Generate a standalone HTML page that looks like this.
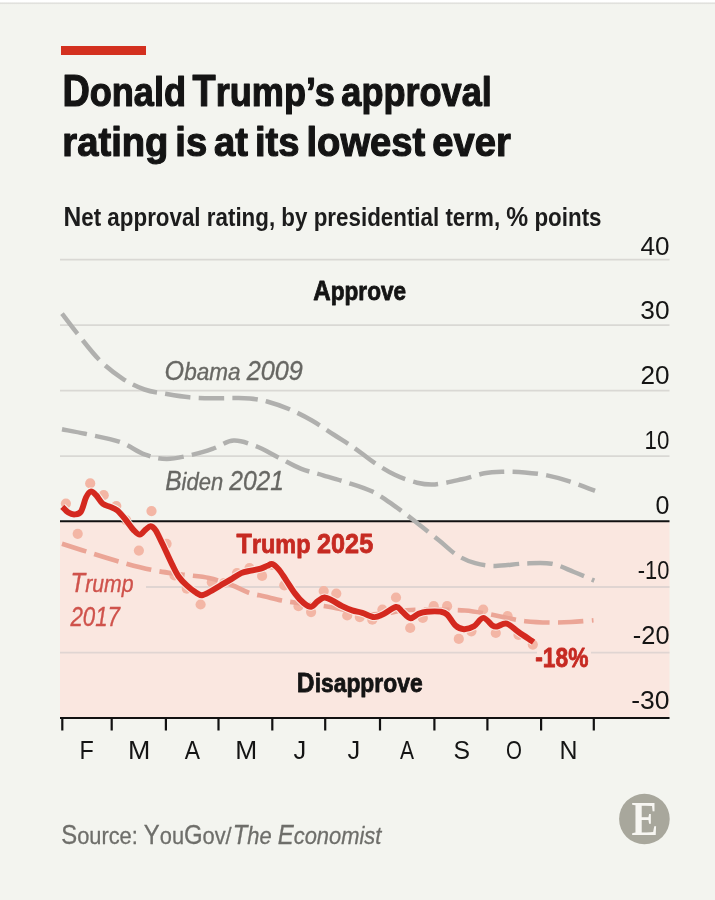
<!DOCTYPE html>
<html><head><meta charset="utf-8"><style>
html,body{margin:0;padding:0;background:#f3f4ef;}
body{width:715px;height:900px;overflow:hidden;position:relative;}
.top{position:absolute;left:0;top:0;width:715px;height:5px;background:linear-gradient(#ffffff 0px,#ffffff 1.8px,#dcdcd8 3.2px,#f3f4ef 4.6px);}
.bar{position:absolute;left:61px;top:46px;width:85px;height:9px;background:#d3301f;}
svg{position:absolute;left:0;top:0;font-family:"Liberation Sans",sans-serif;will-change:transform;}
</style></head><body>
<div class="top"></div>
<div class="bar"></div>
<svg width="715" height="900" viewBox="0 0 715 900">
<rect x="60" y="521.3" width="609.5" height="196.7" fill="#fae7e0"/>
<line x1="60" y1="259.7" x2="669.5" y2="259.7" stroke="#d9d8d4" stroke-width="1.8"/>
<line x1="60" y1="325.2" x2="669.5" y2="325.2" stroke="#d9d8d4" stroke-width="1.8"/>
<line x1="60" y1="390.7" x2="669.5" y2="390.7" stroke="#d9d8d4" stroke-width="1.8"/>
<line x1="60" y1="456.2" x2="669.5" y2="456.2" stroke="#d9d8d4" stroke-width="1.8"/>
<line x1="60" y1="587.0" x2="669.5" y2="587.0" stroke="#e0d5d2" stroke-width="1.8"/>
<line x1="60" y1="652.6" x2="669.5" y2="652.6" stroke="#e0d5d2" stroke-width="1.8"/>
<rect x="60" y="568" width="86" height="62" fill="#fae7e0"/>
<rect x="537" y="645" width="54" height="26" fill="#fae7e0"/>
<circle cx="65.9" cy="503.6" r="5.1" fill="#f3b6a5"/>
<circle cx="77.7" cy="533.8" r="5.1" fill="#f3b6a5"/>
<circle cx="90.2" cy="483.4" r="5.1" fill="#f3b6a5"/>
<circle cx="103.7" cy="495.2" r="5.1" fill="#f3b6a5"/>
<circle cx="116.3" cy="506.1" r="5.1" fill="#f3b6a5"/>
<circle cx="126.3" cy="520.4" r="5.1" fill="#f3b6a5"/>
<circle cx="138.9" cy="550.6" r="5.1" fill="#f3b6a5"/>
<circle cx="151.5" cy="511.1" r="5.1" fill="#f3b6a5"/>
<circle cx="166.6" cy="543.8" r="5.1" fill="#f3b6a5"/>
<circle cx="174.5" cy="575.5" r="5.1" fill="#f3b6a5"/>
<circle cx="186.8" cy="588.7" r="5.1" fill="#f3b6a5"/>
<circle cx="200.6" cy="604.5" r="5.1" fill="#f3b6a5"/>
<circle cx="211.8" cy="582.2" r="5.1" fill="#f3b6a5"/>
<circle cx="224" cy="583" r="5.1" fill="#f3b6a5"/>
<circle cx="237" cy="573" r="5.1" fill="#f3b6a5"/>
<circle cx="249.5" cy="568.2" r="5.1" fill="#f3b6a5"/>
<circle cx="262.1" cy="575.9" r="5.1" fill="#f3b6a5"/>
<circle cx="272" cy="565" r="5.1" fill="#f3b6a5"/>
<circle cx="284.3" cy="585.3" r="5.1" fill="#f3b6a5"/>
<circle cx="298.5" cy="606.2" r="5.1" fill="#f3b6a5"/>
<circle cx="311.1" cy="612.1" r="5.1" fill="#f3b6a5"/>
<circle cx="323.7" cy="591.1" r="5.1" fill="#f3b6a5"/>
<circle cx="336.3" cy="593.6" r="5.1" fill="#f3b6a5"/>
<circle cx="347.2" cy="615.5" r="5.1" fill="#f3b6a5"/>
<circle cx="359.8" cy="617.1" r="5.1" fill="#f3b6a5"/>
<circle cx="372.3" cy="619.7" r="5.1" fill="#f3b6a5"/>
<circle cx="382.4" cy="609.6" r="5.1" fill="#f3b6a5"/>
<circle cx="396" cy="597.5" r="5.1" fill="#f3b6a5"/>
<circle cx="410.2" cy="628" r="5.1" fill="#f3b6a5"/>
<circle cx="422.8" cy="617.9" r="5.1" fill="#f3b6a5"/>
<circle cx="433.7" cy="606.2" r="5.1" fill="#f3b6a5"/>
<circle cx="447.1" cy="606.2" r="5.1" fill="#f3b6a5"/>
<circle cx="458.8" cy="638.9" r="5.1" fill="#f3b6a5"/>
<circle cx="471.4" cy="631.3" r="5.1" fill="#f3b6a5"/>
<circle cx="483.2" cy="609.5" r="5.1" fill="#f3b6a5"/>
<circle cx="495.8" cy="633" r="5.1" fill="#f3b6a5"/>
<circle cx="507.6" cy="616.1" r="5.1" fill="#f3b6a5"/>
<circle cx="518.5" cy="635" r="5.1" fill="#f3b6a5"/>
<circle cx="532.8" cy="644.6" r="5.1" fill="#f3b6a5"/>
<line x1="60" y1="521.3" x2="669.5" y2="521.3" stroke="#111" stroke-width="2.1"/>
<line x1="60" y1="718" x2="669.5" y2="718" stroke="#111" stroke-width="2.1"/>
<line x1="62.3" y1="718" x2="62.3" y2="730.5" stroke="#111" stroke-width="2.2"/>
<line x1="111.7" y1="718" x2="111.7" y2="730.5" stroke="#111" stroke-width="2.2"/>
<line x1="165.9" y1="718" x2="165.9" y2="730.5" stroke="#111" stroke-width="2.2"/>
<line x1="218.5" y1="718" x2="218.5" y2="730.5" stroke="#111" stroke-width="2.2"/>
<line x1="272.3" y1="718" x2="272.3" y2="730.5" stroke="#111" stroke-width="2.2"/>
<line x1="325.2" y1="718" x2="325.2" y2="730.5" stroke="#111" stroke-width="2.2"/>
<line x1="380" y1="718" x2="380" y2="730.5" stroke="#111" stroke-width="2.2"/>
<line x1="434.4" y1="718" x2="434.4" y2="730.5" stroke="#111" stroke-width="2.2"/>
<line x1="487.4" y1="718" x2="487.4" y2="730.5" stroke="#111" stroke-width="2.2"/>
<line x1="541.1" y1="718" x2="541.1" y2="730.5" stroke="#111" stroke-width="2.2"/>
<line x1="593.8" y1="718" x2="593.8" y2="730.5" stroke="#111" stroke-width="2.2"/>
<path d="M62.0,313.6 C64.6,316.9 71.1,325.8 77.4,333.6 C83.7,341.4 92.3,352.9 99.8,360.4 C107.2,367.8 114.6,373.4 122.1,378.3 C129.5,383.2 137.0,386.9 144.5,389.5 C152.0,392.1 159.4,392.7 166.9,394.0 C174.4,395.3 181.9,396.6 189.3,397.3 C196.8,398.0 204.3,398.2 211.6,398.3 C218.9,398.4 226.6,398.1 233.0,398.1 C239.4,398.1 244.3,397.9 250.0,398.5 C255.7,399.1 260.5,399.7 267.1,401.5 C273.7,403.3 282.0,406.1 289.5,409.3 C297.0,412.5 304.4,416.2 311.9,420.5 C319.4,424.8 327.2,430.4 334.3,435.0 C341.4,439.6 348.1,443.6 354.5,448.0 C360.9,452.4 365.7,456.9 372.4,461.4 C379.1,465.9 387.4,471.2 394.8,474.8 C402.2,478.4 410.4,481.1 417.1,482.7 C423.8,484.3 427.5,485.0 435.0,484.4 C442.5,483.8 453.7,481.1 461.9,479.3 C470.1,477.5 477.6,474.6 484.3,473.3 C491.1,472.1 495.6,472.0 502.4,471.8 C509.1,471.6 517.3,471.8 524.8,472.4 C532.2,473.0 539.6,473.9 547.1,475.4 C554.6,476.9 561.5,478.8 569.5,481.4 C577.5,484.0 590.8,489.2 595.0,490.8" fill="none" stroke="#b0b0ae" stroke-width="4.5" stroke-dasharray="25.5 8.25"/>
<path d="M62.0,429.3 C65.9,430.1 75.5,431.7 85.2,433.8 C94.9,435.9 110.0,438.6 119.9,442.0 C129.8,445.4 136.7,451.6 144.5,454.4 C152.3,457.2 158.7,458.9 166.9,458.9 C175.1,458.9 185.9,456.1 193.7,454.4 C201.4,452.7 206.8,450.8 213.4,448.5 C220.1,446.2 226.5,441.0 233.6,440.6 C240.7,440.2 248.4,443.4 255.9,446.2 C263.4,449.0 270.8,453.7 278.3,457.4 C285.8,461.1 293.2,465.6 300.7,468.6 C308.2,471.6 315.7,473.1 323.1,475.3 C330.6,477.5 337.2,479.3 345.4,482.0 C353.6,484.7 364.2,487.6 372.4,491.6 C380.6,495.6 387.4,500.9 394.8,506.1 C402.2,511.3 409.7,517.1 417.1,522.9 C424.6,528.7 432.8,535.4 439.5,540.8 C446.2,546.2 451.4,551.7 457.4,555.4 C463.4,559.1 469.0,561.5 475.3,563.2 C481.6,565.0 487.1,565.9 495.4,565.9 C503.6,565.9 515.4,563.9 524.8,563.5 C534.2,563.1 543.4,562.3 551.6,563.7 C559.8,565.1 566.9,569.2 574.0,572.0 C581.1,574.8 590.9,579.2 594.3,580.6" fill="none" stroke="#b0b0ae" stroke-width="4.5" stroke-dasharray="25.5 8.25"/>
<path d="M62.0,543.8 C66.0,545.1 76.5,548.4 86.0,551.4 C95.5,554.4 107.9,558.4 118.8,561.5 C129.7,564.6 141.0,567.7 151.5,569.9 C162.0,572.1 172.2,573.1 181.8,574.5 C191.4,575.9 200.7,576.2 209.0,578.0 C217.3,579.8 224.8,582.5 231.4,585.0 C238.0,587.5 243.2,590.8 248.8,592.7 C254.4,594.6 259.5,595.2 265.0,596.5 C270.5,597.8 275.9,599.4 281.7,600.5 C287.5,601.6 291.9,602.1 300.0,603.2 C308.1,604.3 320.8,605.5 330.0,607.0 C339.2,608.5 348.0,610.8 355.0,612.0 C362.0,613.2 366.7,614.1 372.0,614.3 C377.3,614.5 382.3,613.8 387.0,613.3 C391.7,612.8 396.0,611.5 400.0,611.0 C404.0,610.5 404.3,610.2 411.0,610.0 C417.7,609.8 431.0,609.7 440.0,609.8 C449.0,609.9 457.4,609.9 465.0,610.5 C472.6,611.1 479.0,612.3 485.7,613.5 C492.4,614.7 498.4,616.2 505.0,617.5 C511.6,618.8 517.8,620.4 525.2,621.2 C532.6,622.0 542.0,622.4 549.6,622.5 C557.2,622.6 563.7,622.4 571.0,622.0 C578.3,621.6 589.8,620.6 593.5,620.3" fill="none" stroke="#eba596" stroke-width="4.6" stroke-dasharray="25.5 8.25"/>
<clipPath id="cu"><rect x="0" y="0" width="715" height="521.3"/></clipPath><clipPath id="cl"><rect x="0" y="521.3" width="715" height="400"/></clipPath>
<path d="M62.3,506.8 C63.3,507.8 66.3,511.3 68.4,512.6 C70.5,513.9 72.7,514.6 74.8,514.4 C76.9,514.2 79.1,514.3 81.0,511.5 C82.9,508.7 84.4,500.8 86.0,497.5 C87.6,494.2 89.1,491.9 90.8,491.5 C92.5,491.1 94.1,493.1 96.1,495.2 C98.1,497.2 100.4,501.9 102.8,503.8 C105.2,505.8 108.0,505.8 110.4,506.9 C112.8,508.0 114.6,508.2 117.1,510.3 C119.6,512.4 122.7,516.1 125.5,519.5 C128.3,522.9 131.5,527.9 133.9,530.4 C136.3,532.9 137.9,534.7 139.8,534.6 C141.8,534.5 143.8,531.0 145.6,529.6 C147.4,528.2 149.0,526.1 150.7,526.2 C152.4,526.3 153.8,527.5 155.7,530.4 C157.6,533.3 159.7,538.3 162.4,543.8 C165.1,549.3 169.0,558.2 171.7,563.6 C174.4,569.0 175.9,572.6 178.4,576.2 C180.9,579.8 184.0,582.8 186.8,585.4 C189.6,588.0 192.7,590.5 195.2,592.1 C197.7,593.7 199.4,595.3 201.9,595.2 C204.4,595.1 207.2,593.1 210.3,591.5 C213.4,589.9 217.0,587.5 220.4,585.5 C223.8,583.5 227.0,581.7 230.5,579.6 C234.0,577.5 237.8,574.6 241.2,573.1 C244.6,571.6 247.8,571.4 251.0,570.6 C254.2,569.9 258.0,569.4 260.7,568.6 C263.4,567.8 265.4,566.6 267.4,565.8 C269.3,565.0 270.5,563.4 272.4,564.0 C274.3,564.6 276.6,567.0 278.9,569.6 C281.1,572.2 283.2,575.8 285.9,579.8 C288.6,583.8 292.2,589.8 295.1,593.6 C298.0,597.5 300.8,600.7 303.5,602.9 C306.2,605.1 308.7,607.1 311.1,606.8 C313.5,606.5 315.6,602.8 317.8,601.2 C320.0,599.7 322.1,597.6 324.5,597.5 C326.9,597.4 329.2,598.9 332.1,600.4 C335.0,601.9 338.8,604.5 342.1,606.2 C345.5,607.9 348.8,609.3 352.2,610.4 C355.6,611.5 358.7,611.8 362.3,612.9 C365.9,614.0 370.6,616.8 374.0,617.1 C377.4,617.4 378.8,616.3 382.4,614.6 C386.0,612.9 392.7,607.6 395.9,607.0 C399.1,606.4 399.4,609.3 401.8,611.2 C404.2,613.1 407.4,617.8 410.2,618.2 C413.0,618.6 415.8,614.8 418.6,613.7 C421.4,612.6 423.4,612.0 427.0,611.7 C430.6,611.4 437.0,611.2 440.4,611.7 C443.8,612.2 444.6,612.2 447.1,614.5 C449.6,616.8 452.7,623.0 455.5,625.5 C458.3,628.0 460.8,629.1 463.9,629.2 C467.0,629.3 470.8,628.2 474.0,626.3 C477.2,624.4 480.1,618.0 483.2,617.9 C486.3,617.8 490.1,624.1 492.4,625.5 C494.7,626.9 494.6,626.8 497.0,626.5 C499.4,626.2 503.2,622.7 506.8,623.6 C510.4,624.5 514.0,628.9 518.5,632.0 C523.0,635.1 531.1,640.4 533.6,642.1" fill="none" stroke="#f3f4ef" stroke-width="8.1" stroke-linejoin="round" clip-path="url(#cu)"/>
<path d="M62.3,506.8 C63.3,507.8 66.3,511.3 68.4,512.6 C70.5,513.9 72.7,514.6 74.8,514.4 C76.9,514.2 79.1,514.3 81.0,511.5 C82.9,508.7 84.4,500.8 86.0,497.5 C87.6,494.2 89.1,491.9 90.8,491.5 C92.5,491.1 94.1,493.1 96.1,495.2 C98.1,497.2 100.4,501.9 102.8,503.8 C105.2,505.8 108.0,505.8 110.4,506.9 C112.8,508.0 114.6,508.2 117.1,510.3 C119.6,512.4 122.7,516.1 125.5,519.5 C128.3,522.9 131.5,527.9 133.9,530.4 C136.3,532.9 137.9,534.7 139.8,534.6 C141.8,534.5 143.8,531.0 145.6,529.6 C147.4,528.2 149.0,526.1 150.7,526.2 C152.4,526.3 153.8,527.5 155.7,530.4 C157.6,533.3 159.7,538.3 162.4,543.8 C165.1,549.3 169.0,558.2 171.7,563.6 C174.4,569.0 175.9,572.6 178.4,576.2 C180.9,579.8 184.0,582.8 186.8,585.4 C189.6,588.0 192.7,590.5 195.2,592.1 C197.7,593.7 199.4,595.3 201.9,595.2 C204.4,595.1 207.2,593.1 210.3,591.5 C213.4,589.9 217.0,587.5 220.4,585.5 C223.8,583.5 227.0,581.7 230.5,579.6 C234.0,577.5 237.8,574.6 241.2,573.1 C244.6,571.6 247.8,571.4 251.0,570.6 C254.2,569.9 258.0,569.4 260.7,568.6 C263.4,567.8 265.4,566.6 267.4,565.8 C269.3,565.0 270.5,563.4 272.4,564.0 C274.3,564.6 276.6,567.0 278.9,569.6 C281.1,572.2 283.2,575.8 285.9,579.8 C288.6,583.8 292.2,589.8 295.1,593.6 C298.0,597.5 300.8,600.7 303.5,602.9 C306.2,605.1 308.7,607.1 311.1,606.8 C313.5,606.5 315.6,602.8 317.8,601.2 C320.0,599.7 322.1,597.6 324.5,597.5 C326.9,597.4 329.2,598.9 332.1,600.4 C335.0,601.9 338.8,604.5 342.1,606.2 C345.5,607.9 348.8,609.3 352.2,610.4 C355.6,611.5 358.7,611.8 362.3,612.9 C365.9,614.0 370.6,616.8 374.0,617.1 C377.4,617.4 378.8,616.3 382.4,614.6 C386.0,612.9 392.7,607.6 395.9,607.0 C399.1,606.4 399.4,609.3 401.8,611.2 C404.2,613.1 407.4,617.8 410.2,618.2 C413.0,618.6 415.8,614.8 418.6,613.7 C421.4,612.6 423.4,612.0 427.0,611.7 C430.6,611.4 437.0,611.2 440.4,611.7 C443.8,612.2 444.6,612.2 447.1,614.5 C449.6,616.8 452.7,623.0 455.5,625.5 C458.3,628.0 460.8,629.1 463.9,629.2 C467.0,629.3 470.8,628.2 474.0,626.3 C477.2,624.4 480.1,618.0 483.2,617.9 C486.3,617.8 490.1,624.1 492.4,625.5 C494.7,626.9 494.6,626.8 497.0,626.5 C499.4,626.2 503.2,622.7 506.8,623.6 C510.4,624.5 514.0,628.9 518.5,632.0 C523.0,635.1 531.1,640.4 533.6,642.1" fill="none" stroke="#fae7e0" stroke-width="8.1" stroke-linejoin="round" clip-path="url(#cl)"/>
<path d="M62.3,506.8 C63.3,507.8 66.3,511.3 68.4,512.6 C70.5,513.9 72.7,514.6 74.8,514.4 C76.9,514.2 79.1,514.3 81.0,511.5 C82.9,508.7 84.4,500.8 86.0,497.5 C87.6,494.2 89.1,491.9 90.8,491.5 C92.5,491.1 94.1,493.1 96.1,495.2 C98.1,497.2 100.4,501.9 102.8,503.8 C105.2,505.8 108.0,505.8 110.4,506.9 C112.8,508.0 114.6,508.2 117.1,510.3 C119.6,512.4 122.7,516.1 125.5,519.5 C128.3,522.9 131.5,527.9 133.9,530.4 C136.3,532.9 137.9,534.7 139.8,534.6 C141.8,534.5 143.8,531.0 145.6,529.6 C147.4,528.2 149.0,526.1 150.7,526.2 C152.4,526.3 153.8,527.5 155.7,530.4 C157.6,533.3 159.7,538.3 162.4,543.8 C165.1,549.3 169.0,558.2 171.7,563.6 C174.4,569.0 175.9,572.6 178.4,576.2 C180.9,579.8 184.0,582.8 186.8,585.4 C189.6,588.0 192.7,590.5 195.2,592.1 C197.7,593.7 199.4,595.3 201.9,595.2 C204.4,595.1 207.2,593.1 210.3,591.5 C213.4,589.9 217.0,587.5 220.4,585.5 C223.8,583.5 227.0,581.7 230.5,579.6 C234.0,577.5 237.8,574.6 241.2,573.1 C244.6,571.6 247.8,571.4 251.0,570.6 C254.2,569.9 258.0,569.4 260.7,568.6 C263.4,567.8 265.4,566.6 267.4,565.8 C269.3,565.0 270.5,563.4 272.4,564.0 C274.3,564.6 276.6,567.0 278.9,569.6 C281.1,572.2 283.2,575.8 285.9,579.8 C288.6,583.8 292.2,589.8 295.1,593.6 C298.0,597.5 300.8,600.7 303.5,602.9 C306.2,605.1 308.7,607.1 311.1,606.8 C313.5,606.5 315.6,602.8 317.8,601.2 C320.0,599.7 322.1,597.6 324.5,597.5 C326.9,597.4 329.2,598.9 332.1,600.4 C335.0,601.9 338.8,604.5 342.1,606.2 C345.5,607.9 348.8,609.3 352.2,610.4 C355.6,611.5 358.7,611.8 362.3,612.9 C365.9,614.0 370.6,616.8 374.0,617.1 C377.4,617.4 378.8,616.3 382.4,614.6 C386.0,612.9 392.7,607.6 395.9,607.0 C399.1,606.4 399.4,609.3 401.8,611.2 C404.2,613.1 407.4,617.8 410.2,618.2 C413.0,618.6 415.8,614.8 418.6,613.7 C421.4,612.6 423.4,612.0 427.0,611.7 C430.6,611.4 437.0,611.2 440.4,611.7 C443.8,612.2 444.6,612.2 447.1,614.5 C449.6,616.8 452.7,623.0 455.5,625.5 C458.3,628.0 460.8,629.1 463.9,629.2 C467.0,629.3 470.8,628.2 474.0,626.3 C477.2,624.4 480.1,618.0 483.2,617.9 C486.3,617.8 490.1,624.1 492.4,625.5 C494.7,626.9 494.6,626.8 497.0,626.5 C499.4,626.2 503.2,622.7 506.8,623.6 C510.4,624.5 514.0,628.9 518.5,632.0 C523.0,635.1 531.1,640.4 533.6,642.1" fill="none" stroke="#d4291f" stroke-width="5.9" stroke-linejoin="round"/>
<text x="62.44" y="105.5" font-size="43.5" fill="#141414" font-weight="bold" word-spacing="-4" stroke="#141414" stroke-width="1.2" stroke-linejoin="round" textLength="429.35" lengthAdjust="spacingAndGlyphs">D<tspan font-size="41.5">onald </tspan>T<tspan font-size="41.5">rump’s approval</tspan></text>
<text x="62.37" y="155.5" font-size="43.5" fill="#141414" font-weight="bold" word-spacing="-4" stroke="#141414" stroke-width="1.2" stroke-linejoin="round" textLength="448.39" lengthAdjust="spacingAndGlyphs"><tspan font-size="41.5">rating is at its lowest ever</tspan></text>
<text x="63.48" y="225.7" font-size="28.4" fill="#1c1c1c" font-weight="bold" textLength="538.05" lengthAdjust="spacingAndGlyphs">N<tspan font-size="25.8">et approval rating, by presidential term, </tspan>%<tspan font-size="25.8"> points</tspan></text>
<text x="313.36" y="300" font-size="27.6" fill="#141414" font-weight="bold" stroke="#141414" stroke-width="0.8" stroke-linejoin="round" textLength="92.68" lengthAdjust="spacingAndGlyphs">A<tspan font-size="25.8">pprove</tspan></text>
<text x="296.86" y="692.3" font-size="28" fill="#141414" font-weight="bold" stroke="#141414" stroke-width="0.8" stroke-linejoin="round" textLength="125.76" lengthAdjust="spacingAndGlyphs">D<tspan font-size="26">isapprove</tspan></text>
<text x="236.47" y="552.7" font-size="28" fill="#c62a22" font-weight="bold" stroke="#c62a22" stroke-width="0.8" stroke-linejoin="round" textLength="136.74" lengthAdjust="spacingAndGlyphs">T<tspan font-size="26">rump </tspan>2025</text>
<text x="535.27" y="667.3" font-size="27.5" fill="#c62a22" font-weight="bold" stroke="#c62a22" stroke-width="0.8" stroke-linejoin="round" textLength="53.11" lengthAdjust="spacingAndGlyphs">-18%</text>
<text x="164.52" y="379.9" font-size="27.3" fill="#676763" font-style="italic" stroke="#676763" stroke-width="0.35" stroke-linejoin="round" textLength="138.40" lengthAdjust="spacingAndGlyphs">O<tspan font-size="24.4">bama </tspan>2009</text>
<text x="165.20" y="489.8" font-size="27.3" fill="#676763" font-style="italic" stroke="#676763" stroke-width="0.35" stroke-linejoin="round" textLength="118.79" lengthAdjust="spacingAndGlyphs">B<tspan font-size="24.4">iden </tspan>2021</text>
<text x="70.53" y="592.4" font-size="27.8" fill="#cf524b" font-style="italic" stroke="#cf524b" stroke-width="0.35" stroke-linejoin="round" textLength="63.08" lengthAdjust="spacingAndGlyphs">T<tspan font-size="24.6">rump</tspan></text>
<text x="70.38" y="626.3" font-size="26.8" fill="#cf524b" font-style="italic" stroke="#cf524b" stroke-width="0.35" stroke-linejoin="round" textLength="49.64" lengthAdjust="spacingAndGlyphs">2017</text>
<text x="61.26" y="844" font-size="26.8" fill="#6e6e6a" stroke="#6e6e6a" stroke-width="0.3" stroke-linejoin="round" textLength="170.42" lengthAdjust="spacingAndGlyphs">S<tspan font-size="24.5">ource: </tspan>Y<tspan font-size="24.5">ou</tspan>G<tspan font-size="24.5">ov/</tspan></text>
<text x="232.64" y="844" font-size="26.8" fill="#6e6e6a" font-style="italic" stroke="#6e6e6a" stroke-width="0.3" stroke-linejoin="round" textLength="148.77" lengthAdjust="spacingAndGlyphs">T<tspan font-size="24.5">he </tspan>E<tspan font-size="24.5">conomist</tspan></text>
<text x="640.50" y="254.5" font-size="26.2" fill="#141414" textLength="29.02" lengthAdjust="spacingAndGlyphs">40</text>
<text x="640.25" y="319.4" font-size="26.2" fill="#141414" textLength="29.28" lengthAdjust="spacingAndGlyphs">30</text>
<text x="640.45" y="384.3" font-size="26.2" fill="#141414" textLength="29.07" lengthAdjust="spacingAndGlyphs">20</text>
<text x="644.61" y="449.2" font-size="26.2" fill="#141414" textLength="24.79" lengthAdjust="spacingAndGlyphs">10</text>
<text x="655.54" y="514.1" font-size="26.2" fill="#141414" textLength="13.94" lengthAdjust="spacingAndGlyphs">0</text>
<text x="637.76" y="579.0" font-size="26.2" fill="#141414" textLength="31.62" lengthAdjust="spacingAndGlyphs">-10</text>
<text x="632.83" y="643.9" font-size="26.2" fill="#141414" textLength="36.66" lengthAdjust="spacingAndGlyphs">-20</text>
<text x="631.19" y="708.8" font-size="26.2" fill="#141414" textLength="38.34" lengthAdjust="spacingAndGlyphs">-30</text>
<text x="79.43" y="759" font-size="26.5" fill="#141414" textLength="14.29" lengthAdjust="spacingAndGlyphs">F</text>
<text x="128.08" y="759" font-size="26.5" fill="#141414" textLength="22.32" lengthAdjust="spacingAndGlyphs">M</text>
<text x="184.70" y="759" font-size="26.5" fill="#141414" textLength="15.24" lengthAdjust="spacingAndGlyphs">A</text>
<text x="235.31" y="759" font-size="26.5" fill="#141414" textLength="21.95" lengthAdjust="spacingAndGlyphs">M</text>
<text x="293.56" y="759" font-size="26.5" fill="#141414" textLength="12.72" lengthAdjust="spacingAndGlyphs">J</text>
<text x="347.46" y="759" font-size="26.5" fill="#141414" textLength="12.72" lengthAdjust="spacingAndGlyphs">J</text>
<text x="400.10" y="759" font-size="26.5" fill="#141414" textLength="14.04" lengthAdjust="spacingAndGlyphs">A</text>
<text x="453.56" y="759" font-size="26.5" fill="#141414" textLength="16.53" lengthAdjust="spacingAndGlyphs">S</text>
<text x="505.93" y="759" font-size="26.5" fill="#141414" textLength="15.93" lengthAdjust="spacingAndGlyphs">O</text>
<text x="559.42" y="759" font-size="26.5" fill="#141414" textLength="17.99" lengthAdjust="spacingAndGlyphs">N</text>
<circle cx="644.4" cy="819" r="25.3" fill="#a8a79c"/>
<text x="631.6" y="834.8" font-family="Liberation Serif" font-weight="bold" font-size="47.5" textLength="26.6" lengthAdjust="spacingAndGlyphs" fill="#f7f6f2">E</text>
</svg>
</body></html>
